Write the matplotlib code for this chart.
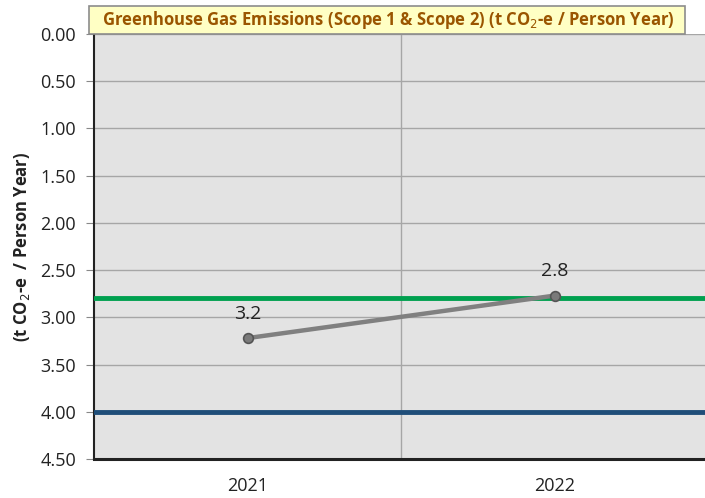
import matplotlib.pyplot as plt
from matplotlib.patches import FancyBboxPatch

years = ["2021", "2022"]
emissions = [3.22, 2.77]
labels = ["3.2", "2.8"]
green_target = 2.8
blue_target = 4.0
y_ticks = [0.0, 0.5, 1.0, 1.5, 2.0, 2.5, 3.0, 3.5, 4.0, 4.5]

plt.rcParams["font.family"] = ["Open Sans", "DejaVu Sans"]

fig = plt.figure(figsize=(7.05, 4.98), dpi=100)
ax = fig.add_axes([94 / 705, 1 - 459 / 498, (708 - 94) / 705, (459 - 34) / 498])
ax.set_facecolor("#e3e3e3")

x = list(range(len(years)))
ax.axhline(green_target, color="#00a04f", lw=3.5, zorder=3)
ax.axhline(blue_target, color="#1f4e79", lw=3.5, zorder=3)
ax.plot(x, emissions, color="#808080", lw=3.2, marker="o", ms=7,
        mfc="#7a7a7a", mec="#555555", mew=1.2, zorder=4)
for xi, v, lab in zip(x, emissions, labels):
    ax.annotate(lab, (xi, v), xytext=(0, 11), textcoords="offset points",
                ha="center", va="bottom", fontsize=14, color="#222222")

ax.set_xlim(-0.5, len(years) - 0.5)
ax.set_ylim(4.5, 0.0)
ax.set_yticks(y_ticks)
ax.set_yticklabels([f"{t:.2f}" for t in y_ticks], fontsize=13, color="#222222")
ax.set_xticks(x)
ax.set_xticklabels(years, fontsize=13, color="#222222")
ax.set_xticks([0.5], minor=True)
ax.tick_params(axis="x", which="both", length=0, pad=13)
ax.tick_params(axis="y", length=6, color="#888888", pad=7)

ax.grid(axis="y", color="#a6a6a6", lw=1, zorder=1)
ax.grid(axis="x", which="minor", color="#a6a6a6", lw=1, zorder=1)
ax.set_axisbelow(True)

for s in ["top", "right"]:
    ax.spines[s].set_visible(False)
ax.spines["left"].set_linewidth(1.5)
ax.spines["left"].set_color("#222222")
ax.spines["bottom"].set_linewidth(2.2)
ax.spines["bottom"].set_color("#222222")

ax.set_ylabel("(t CO$_2$-e  / Person Year)", fontsize=12, fontweight="bold",
              color="#222222", labelpad=6)

# title box
box = FancyBboxPatch((89 / 705, 1 - 34 / 498), (685 - 89) / 705, 28 / 498,
                     boxstyle="square,pad=0", transform=fig.transFigure,
                     facecolor="#ffffc4", edgecolor="#8c8c8c", lw=1.2, zorder=5)
fig.patches.append(box)
fig.text(388 / 705, 1 - 20 / 498,
         "Greenhouse Gas Emissions (Scope 1 & Scope 2) (t CO$_2$-e / Person Year)",
         ha="center", va="center", fontsize=12.0, fontweight="bold",
         color="#9a5500", zorder=6)

fig.savefig("out.png", dpi=100)
